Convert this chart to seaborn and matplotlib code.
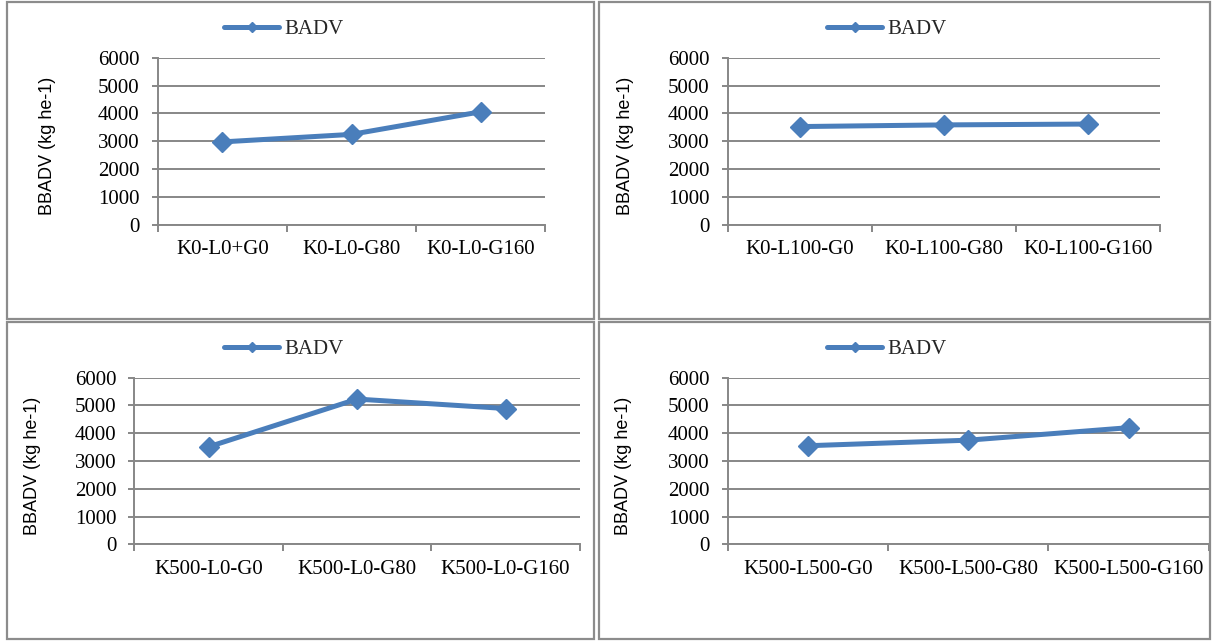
import matplotlib
matplotlib.use("Agg")
import matplotlib.pyplot as plt
import seaborn as sns
import pandas as pd
from matplotlib.patches import Rectangle
from matplotlib.ticker import FixedLocator

sns.set_theme(style="white")
plt.rcParams["font.family"] = ["Liberation Serif", "DejaVu Serif"]

# ---- data -------------------------------------------------------------
series_name = "BADV"
y_label = "BBADV (kg he-1)"
y_ticks = [0, 1000, 2000, 3000, 4000, 5000, 6000]

cats_k0_l0 = ["K0-L0+G0", "K0-L0-G80", "K0-L0-G160"]
vals_k0_l0 = [2980, 3250, 4060]

cats_k0_l100 = ["K0-L100-G0", "K0-L100-G80", "K0-L100-G160"]
vals_k0_l100 = [3530, 3590, 3620]

cats_k500_l0 = ["K500-L0-G0", "K500-L0-G80", "K500-L0-G160"]
vals_k500_l0 = [3510, 5230, 4890]

cats_k500_l500 = ["K500-L500-G0", "K500-L500-G80", "K500-L500-G160"]
vals_k500_l500 = [3550, 3750, 4200]

# ---- styling ------------------------------------------------------------
W, H = 1214, 641
LINE_COLOR = "#4A7EBB"
GRID_COLOR = "#878787"
FRAME_COLOR = "#8C8C8C"
TICK_FS = 15
LABEL_FS = 13

# pixel geometry: (frame box), (axes box), ylabel centre, legend anchor
panels = [
    dict(cats=cats_k0_l0, vals=vals_k0_l0,
         frame=(7, 2, 594, 319), axes=(157.7, 57.7, 545.3, 225.0),
         ylab=(47.8, 145.5), leg=(224, 29.3)),
    dict(cats=cats_k0_l100, vals=vals_k0_l100,
         frame=(599, 2, 1210, 319), axes=(727.6, 57.7, 1160.0, 225.0),
         ylab=(625.5, 145.5), leg=(827, 29.3)),
    dict(cats=cats_k500_l0, vals=vals_k500_l0,
         frame=(7, 322, 594, 639), axes=(134.3, 377.7, 579.8, 544.3),
         ylab=(32.5, 466.0), leg=(224, 349.3)),
    dict(cats=cats_k500_l500, vals=vals_k500_l500,
         frame=(599, 322, 1210, 639), axes=(727.6, 377.7, 1208.9, 544.3),
         ylab=(624.0, 466.0), leg=(827, 349.3)),
]

fig = plt.figure(figsize=(W / 100, H / 100), dpi=100)
fig.patch.set_facecolor("white")


def fx(px):
    return px / W


def fy(py):
    return 1 - py / H


for p in panels:
    # outer frame of each chart
    x0, y0, x1, y1 = p["frame"]
    fig.patches.append(Rectangle((fx(x0), fy(y1)), fx(x1) - fx(x0), fy(y0) - fy(y1),
                                 transform=fig.transFigure, fill=False,
                                 edgecolor=FRAME_COLOR, linewidth=1.6, zorder=0))

    l, t, r, b = p["axes"]
    ax = fig.add_axes([fx(l), fy(b), fx(r) - fx(l), fy(t) - fy(b)])
    ax.set_facecolor("none")

    df = pd.DataFrame({"treatment": p["cats"], "value": p["vals"]})
    sns.lineplot(data=df, x="treatment", y="value", ax=ax, sort=False,
                 color=LINE_COLOR, linewidth=3.6, marker="D", markersize=10,
                 markeredgecolor=LINE_COLOR, markeredgewidth=1,
                 label=series_name, zorder=5)

    ax.set_xlim(-0.5, 2.5)
    ax.set_ylim(0, 6000)
    ax.set_yticks(y_ticks)
    ax.set_yticklabels([str(v) for v in y_ticks])
    ax.set_xticks(range(len(p["cats"])))
    ax.set_xticklabels(p["cats"])
    ax.xaxis.set_minor_locator(FixedLocator([-0.5, 0.5, 1.5, 2.5]))

    ax.grid(axis="y", color=GRID_COLOR, linewidth=1.4)
    ax.set_axisbelow(True)
    for side in ("top", "right"):
        ax.spines[side].set_visible(False)
    for side in ("left", "bottom"):
        ax.spines[side].set_color(GRID_COLOR)
        ax.spines[side].set_linewidth(1.4)

    ax.tick_params(axis="y", which="major", length=4.5, width=1.4, color=GRID_COLOR,
                   pad=8.5, labelsize=TICK_FS, labelcolor="black", left=True)
    ax.tick_params(axis="x", which="major", length=0, pad=11,
                   labelsize=TICK_FS, labelcolor="black")
    ax.tick_params(axis="x", which="minor", length=5, width=1.4, color=GRID_COLOR,
                   bottom=True)

    ax.set_xlabel("")
    ax.set_ylabel(y_label, family=["Liberation Sans", "DejaVu Sans"],
                  fontsize=LABEL_FS, color="black", va="center")
    ax.yaxis.set_label_coords(fx(p["ylab"][0]), fy(p["ylab"][1]),
                              transform=fig.transFigure)

    lx, ly = p["leg"]
    ax.legend(loc="center left", bbox_to_anchor=(fx(lx), fy(ly)),
              bbox_transform=fig.transFigure, frameon=False, borderpad=0,
              borderaxespad=0, handlelength=2.65, handletextpad=0.25,
              markerscale=0.5, prop={"family": "Liberation Serif", "size": TICK_FS})

fig.savefig("out.png", dpi=100, facecolor="white")
